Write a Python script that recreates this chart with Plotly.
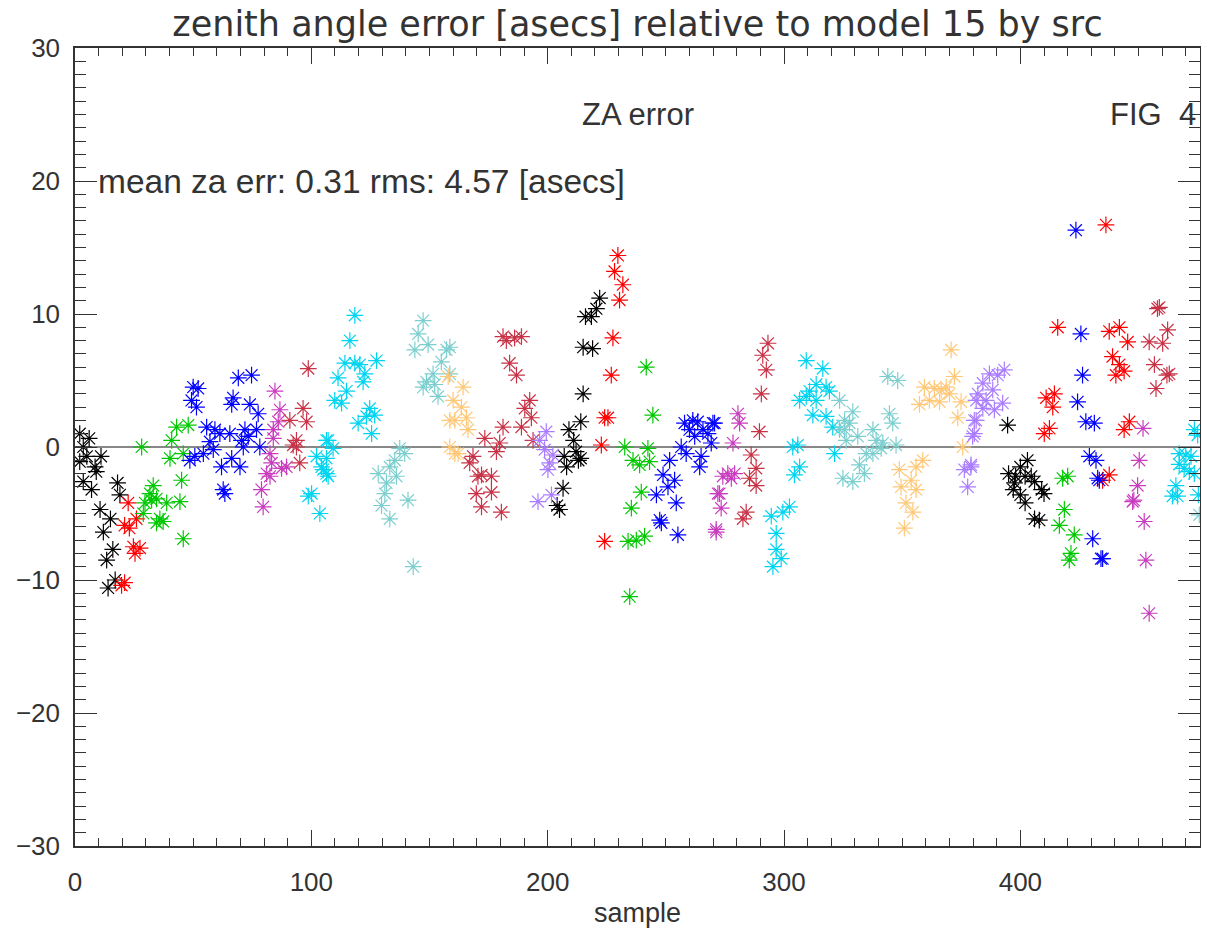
import plotly.graph_objects as go

# ---- data (sample index, zenith-angle error [asecs]) grouped by source colour ----
black_x = [2, 6, 3.5, 11, 2, 5, 8.5, 9, 3.5, 7, 18, 19, 10.6, 15, 12, 16, 13.4, 17, 14,
           216, 215, 215, 214, 209, 211, 212, 207, 208, 206.5, 204, 205, 213, 222, 220.6, 218.5, 219, 214,
           394.6, 403, 400, 395, 398, 402, 406, 409, 410, 397, 400, 402, 406, 408, 397.5, 404.6]
black_y = [1.0, 0.65, 0.0, -0.7, -1.1, -0.7, -1.5, -1.85, -2.6, -3.2, -2.7, -3.6, -4.7, -5.4, -6.4, -7.7, -8.5, -10.0, -10.6,
           9.8, 7.5, 4.0, 1.9, 1.3, 0.5, -0.35, -0.7, -1.5, -3.1, -4.4, -4.7, -1.0, 11.2, 10.4, 9.8, 7.4, -0.85,
           1.65, -1.0, -1.5, -2.0, -2.2, -2.2, -2.6, -3.2, -3.5, -3.2, -3.6, -4.2, -5.4, -5.5, -2.7, -2.2]

red_x = [22.5, 26, 21, 23, 24.7, 27.5, 25.4, 19.7, 21,
         229.7, 228.3, 231.8, 230.4, 227.6, 226.9, 225.5, 224.1, 222.7, 224.1,
         415.8, 414.4, 410.9, 413.7, 412.3, 410.1,
         436.2, 441.9, 437.6, 445.4, 439, 441.9, 443.9, 440.4, 446.1, 443.9, 437.6, 434.8]
red_y = [-4.2, -5.4, -5.9, -6.1, -7.5, -7.6, -8.0, -10.4, -10.2,
         14.4, 13.2, 12.2, 11.05, 8.2, 5.4, 2.2, 2.2, 0.15, -7.1,
         9.0, 4.0, 3.7, 3.0, 1.4, 1.0,
         16.7, 9.0, 8.7, 7.9, 6.8, 6.2, 5.7, 5.4, 1.9, 1.3, -2.1, -2.5]

green_x = [28.2, 43.0, 47.9, 40.9, 40.2, 45.8, 45.1, 33.1, 31.7, 34.5, 29.6, 38.8, 44.4, 28.9, 35.9, 34.5, 37.3, 45.8, 32.4,
           241.7, 244.5, 232.6, 242.4, 236.1, 238.9, 243.1, 239.6, 235.4, 234.0, 237.5, 241.0, 234.7,
           417.9, 420.0, 418.6, 416.5, 422.8, 421.4, 420.7]
green_y = [0.0, 1.5, 1.65, 0.5, -0.85, -0.5, -2.5, -2.9, -3.5, -3.9, -4.2, -4.2, -4.1, -5.0, -5.4, -5.7, -5.6, -6.9, -4.0,
           6.0, 2.4, 0.0, -0.1, -1.0, -1.35, -1.1, -3.4, -4.6, -7.1, -7.0, -6.7, -11.25,
           -2.35, -2.2, -4.7, -5.9, -6.6, -8.0, -8.5]

blue_x = [50.0, 49.3, 51.4, 48.6, 52.1, 69.1, 74.7, 66.9, 66.3, 74.0, 77.5, 76.8, 55.7, 59.2, 61.3, 65.5, 71.9, 73.3,
          70.5, 71.2, 78.2, 57.1, 54.3, 58.5, 62.0, 66.3, 69.8, 50.7, 63.4, 62.7,
          257.9, 261.4, 263.5, 260.0, 262.2, 265.7, 269.9, 267.8, 256.5, 258.6, 251.6, 248.8, 253.7, 250.9,
          246.0, 254.4, 247.4, 248.1, 255.1, 264.9, 264.3, 269.2, 270.6,
          423.5, 425.6, 426.3, 424.2, 427.7, 431.3, 429.2, 432.0, 432.7, 430.6, 434.1, 433.4, 434.8]
blue_y = [4.5, 3.5, 3.0, -1.0, 4.4, 5.2, 5.4, 3.7, 3.2, 3.2, 2.5, 1.3, 1.5, 1.3, 1.0, 1.0, 1.3, 0.8,
          0.5, 0.0, 0.0, 0.4, -0.5, -0.2, -1.5, -0.85, -1.5, -0.7, -3.5, -3.2,
          1.8, 2.0, 1.9, 1.3, 0.8, 1.3, 1.8, 1.0, 0.0, -0.5, -1.0, -2.1, -2.5, -3.0,
          -3.6, -4.2, -5.5, -5.7, -6.6, -0.7, -1.5, 0.3, 1.8,
          16.3, 8.5, 5.4, 3.4, 1.9, 1.8, -0.7, -1.0, -2.35, -6.9, -8.4, -2.5, -8.4]

magenta_x = [84.6, 86.7, 86.0, 83.9, 83.9, 82.5, 81.1, 83.2, 89.5, 87.4, 78.9, 79.6, 82.5,
             272.0, 271.3, 280.5, 281.2, 278.4, 276.2, 274.1, 277.7, 279.1, 272.7, 273.4, 271.3,
             451.9, 450.3, 449.6, 447.5, 448.0, 452.4, 453.1, 454.5]
magenta_y = [4.2, 2.8, 1.9, 1.3, 0.65, -0.5, -2.0, -1.2, -1.5, -1.6, -3.2, -4.5, -2.2,
             -3.5, -6.2, 2.5, 1.8, 0.3, -2.0, -2.2, -2.35, -2.0, -3.5, -4.6, -6.4,
             1.4, -1.0, -2.9, -4.1, -4.0, -5.6, -8.5, -12.5]

crimson_x = [98.7, 96.5, 90.9, 98.0, 93.7, 92.3, 95.1, 93.7,
             182.5, 186.0, 183.9, 186.8, 181.1, 173.4, 179.7, 178.3, 168.4, 167.0, 170.5, 172.0, 176.2,
             169.8, 176.2, 172.0, 180.4, 192.4, 190.3, 188.9, 193.1, 193.8, 181.1, 188.9,
             293.2, 291.0, 292.5, 290.4, 289.6, 286.1, 288.2, 285.4, 288.2, 284.0, 282.6,
             458.8, 458.0, 462.3, 454.5, 460.2, 456.7, 463.0, 462.0, 457.4]
crimson_y = [5.9, 2.9, 2.0, 1.9, 0.5, 0.15, -1.2, 0.0,
             8.0, 8.2, 6.3, 5.4, 1.5, 0.65, 0.3, -0.35, -0.7, -1.2, -2.2, -2.1, -2.2,
             -3.5, -3.4, -4.5, -4.9, 3.5, 2.9, 1.5, 2.2, 0.5, 8.3, 8.3,
             7.8, 6.9, 5.8, 4.0, 1.15, -0.6, -1.6, -2.35, -2.9, -4.9, -5.4,
             10.5, 10.4, 8.8, 7.9, 7.8, 6.2, 5.5, 5.4, 4.4]

cyan_x = [106.4, 102.2, 104.3, 106.4, 100.1, 98.7, 103.6,
          118.4, 116.3, 114.2, 118.4, 120.5, 127.6, 111.3, 122.6, 121.9, 114.9, 109.9, 112.8, 124.7, 126.8,
          123.3, 119.8, 125.5, 107.1, 109.2, 106.4, 105.0, 107.1,
          309.4, 316.4, 313.6, 310.8, 317.8, 306.6, 309.4, 313.6, 319.2, 312.2, 317.8, 320.6, 303.7, 305.8,
          306.6, 304.4, 321.4, 302.3, 299.5, 294.6, 296.7, 296.7, 298.8, 295.3,
          473.6, 475.0, 467.2, 470.0, 472.2, 467.2, 469.3, 471.5, 473.6, 465.8, 464.4, 466.5, 475.3]
cyan_y = [0.5, -0.7, -1.5, -2.0, -3.5, -3.7, -5.0,
          9.9, 8.0, 6.3, 6.3, 6.2, 6.5, 5.2, 5.5, 4.9, 4.2, 3.5, 3.3, 2.9, 2.4,
          2.3, 1.8, 1.0, 0.5, -0.1, -0.85, -1.7, -2.2,
          6.5, 5.9, 4.7, 4.2, 4.5, 3.5, 3.8, 3.5, 4.2, 2.4, 2.3, 1.5, 0.0, 0.15,
          -1.5, -2.1, -0.5, -4.5, -4.9, -5.2, -6.5, -7.7, -8.4, -9.0,
          1.3, 0.9, -0.5, -0.6, -0.7, -1.3, -1.6, -1.85, -2.0, -2.9, -3.7, -3.7, -3.6]

teal_x = [147.3, 145.2, 143.8, 149.4, 157.2, 155.0, 151.5, 148.7, 147.3, 152.2, 153.6, 137.4, 139.5, 135.3,
          133.2, 128.3, 131.8, 136.0, 131.1, 129.7, 133.2, 140.9, 143.1, 158.6, 158.6,
          323.5, 325.6, 323.5, 324.9, 329.1, 327.7, 325.6, 326.3, 331.2, 337.6, 343.9, 348.1, 344.6, 346.0,
          347.4, 341.1, 337.6, 334.8, 331.9, 334.0, 329.1, 339.0, 341.8, 475.7]
teal_y = [9.5, 8.5, 7.3, 7.7, 7.3, 6.4, 5.5, 4.9, 4.5, 4.7, 3.8, -0.1, -0.5, -1.0,
          -1.5, -2.0, -2.7, -2.2, -3.5, -4.4, -5.4, -4.0, -9.0, 7.5, 5.5,
          3.5, 2.0, 1.3, -2.35, 2.65, 1.8, 1.3, 0.5, 0.8, 1.3, 5.3, 5.0, 2.5, 1.8,
          0.15, -0.1, -0.5, -0.5, -1.35, -2.0, -2.6, 0.5, 0.3, -5.1]

orange_x = [157.9, 160.0, 158.6, 160.7, 164.2, 163.5, 165.6, 160.7, 166.3, 162.1, 158.6,
            370.7, 372.1, 359.4, 363.6, 366.5, 370.0, 361.5, 357.3, 365.8, 374.9, 373.5, 375.6,
            358.7, 355.9, 348.8, 353.8, 349.5, 355.9, 351.6, 354.5, 350.9, 368.6]
orange_y = [5.3, 3.5, 2.0, -0.5, 4.5, 3.0, 2.2, 2.0, 1.3, -0.5, 0.0,
            7.3, 5.3, 4.5, 4.4, 4.3, 4.0, 3.5, 3.2, 3.4, 3.4, 2.2, 0.0,
            -1.0, -1.5, -1.7, -2.5, -3.0, -3.2, -4.2, -4.9, -6.1, 4.5]

lavender_x = [199.4, 196.6, 198.7, 202.2, 200.8, 200.1, 195.9, 201.6,
              381.3, 380.5, 379.8, 379.1, 376.3, 377.7,
              393.2, 390.4, 386.9, 384.1, 388.3, 382.0, 385.5, 392.5, 389.0, 384.1, 381.3, 380.5, 379.1]
lavender_y = [1.15, 0.5, -0.2, -0.6, -1.2, -1.7, -4.1, -3.6,
              3.5, 2.0, 0.8, -1.35, -1.7, -3.0,
              5.8, 5.4, 5.5, 4.8, 4.3, 4.0, 3.5, 3.3, 2.8, 2.9, 2.0, 1.0, -1.5]

series = [
    ("black", black_x, black_y, "#000000"),
    ("red", red_x, red_y, "#ff0000"),
    ("green", green_x, green_y, "#00c800"),
    ("blue", blue_x, blue_y, "#0000ff"),
    ("magenta", magenta_x, magenta_y, "#c83cbe"),
    ("crimson", crimson_x, crimson_y, "#c83246"),
    ("cyan", cyan_x, cyan_y, "#00d4f0"),
    ("teal", teal_x, teal_y, "#7dcfcf"),
    ("orange", orange_x, orange_y, "#ffc878"),
    ("lavender", lavender_x, lavender_y, "#aa7cff"),
]

x_range = [0, 476]
y_range = [-30, 30]
x_ticks = [0, 100, 200, 300, 400]
y_ticks = [-30, -20, -10, 0, 10, 20, 30]

FONT = "Liberation Sans"
TXT = "#333333"
AX = "#333333"

FIG_W, FIG_H = 1201, 922   # page body has an 8px default margin

fig = go.Figure()
for name, xs, ys, col in series:
    fig.add_trace(go.Scatter(
        x=xs, y=ys, mode="markers", name=name,
        marker=dict(symbol="asterisk-open", size=14, color=col,
                    line=dict(color=col, width=1.2)),
        showlegend=False, hoverinfo="x+y"))

# zero line
fig.add_shape(type="line", xref="paper", yref="y", x0=0, x1=1, y0=0, y1=0,
              line=dict(color="#111111", width=1), layer="below")

fig.update_layout(
    width=FIG_W, height=FIG_H,
    margin=dict(l=67, r=9, t=40, b=84, autoexpand=False),
    paper_bgcolor="white", plot_bgcolor="white",
    font=dict(family=FONT, color=TXT),
    title=dict(text="zenith angle error [asecs] relative to model 15 by src",
               x=0.5, xref="paper", xanchor="center", y=1 - 16 / FIG_H, yanchor="middle",
               yref="container", font=dict(size=35, family="DejaVu Sans", color=TXT)),
    xaxis=dict(range=x_range, tickvals=x_ticks, showgrid=False, zeroline=False,
               automargin=False,
               showline=True, linecolor=AX, linewidth=1.5, mirror="ticks",
               ticks="inside", ticklen=16, tickwidth=1, tickcolor=AX,
               minor=dict(ticks="inside", dtick=10, ticklen=8, tickcolor=AX, tickwidth=1, showgrid=False),
               tickfont=dict(size=26, family=FONT, color=TXT),
               ticklabelstandoff=12,
               title=dict(text="sample", font=dict(size=27, family=FONT, color=TXT), standoff=7)),
    yaxis=dict(range=y_range, tickvals=y_ticks, showgrid=False, zeroline=False,
               automargin=False,
               showline=True, linecolor=AX, linewidth=1.5, mirror="ticks",
               ticks="inside", ticklen=22, tickwidth=1, tickcolor=AX,
               minor=dict(ticks="inside", dtick=1, ticklen=11, tickcolor=AX, tickwidth=1, showgrid=False),
               tickfont=dict(size=26, family=FONT, color=TXT),
               ticklabelstandoff=8),
)

fig.add_annotation(text="ZA error", x=0.5, xref="paper", y=25, yref="y",
                   showarrow=False, xanchor="center", yanchor="middle",
                   font=dict(size=31, family=FONT, color=TXT))
fig.add_annotation(text="FIG\u00a0\u00a04", x=1, xref="paper", y=25, yref="y", xshift=-2,
                   showarrow=False, xanchor="right", yanchor="middle",
                   font=dict(size=31, family=FONT, color=TXT))
fig.add_annotation(text="mean za err: 0.31 rms: 4.57 [asecs]", x=9, xref="x", y=20, yref="y",
                   showarrow=False, xanchor="left", yanchor="middle",
                   font=dict(size=33.5, family=FONT, color=TXT))

fig.write_html("out.html")
